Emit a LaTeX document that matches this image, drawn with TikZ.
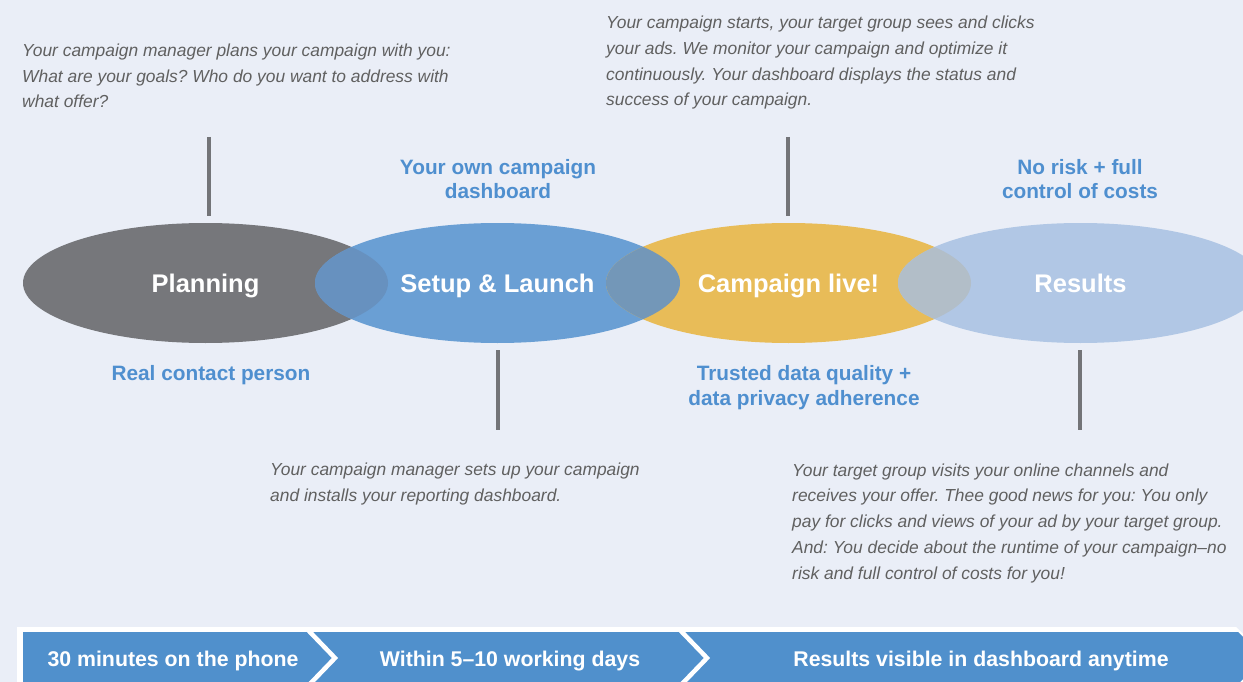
\documentclass[tikz,border=0pt]{standalone}
\usepackage{fontspec}
\setmainfont{Liberation Sans}
\usetikzlibrary{shapes.geometric}
\definecolor{bg}{HTML}{EAEEF7}
\definecolor{cplan}{HTML}{76777B}
\definecolor{csetup}{HTML}{6A9FD4}
\definecolor{clive}{HTML}{E8BC58}
\definecolor{cres}{HTML}{B1C7E5}
\definecolor{ovA}{HTML}{6791BF}
\definecolor{ovB}{HTML}{7397B8}
\definecolor{ovC}{HTML}{B2BEC8}
\definecolor{lblue}{HTML}{4F8FCF}
\definecolor{txtgray}{HTML}{606060}
\definecolor{linegray}{HTML}{737478}
\definecolor{barblue}{HTML}{5090CC}
\frenchspacing
\begin{document}
\begin{tikzpicture}[x=1pt,y=-1pt,
  phase/.style={ellipse, minimum width=365pt, minimum height=120pt, inner sep=0pt,
    text=white, font=\bfseries\fontsize{25.5}{30}\selectfont, text height=18.5pt, text depth=0pt},
  desc/.style={anchor=base west, inner sep=0pt, align=left, text=txtgray,
    font=\itshape\fontsize{17.4}{25.7}\selectfont},
  bluelbl/.style={anchor=base, inner sep=0pt, align=center, text=lblue,
    font=\bfseries\fontsize{20.8}{24.5}\selectfont},
  barlbl/.style={inner sep=0pt, text=white, font=\bfseries\fontsize{21.3}{24}\selectfont,
    text height=14.8pt, text depth=0pt},
  stem/.style={draw=linegray, line width=3.5pt},
  chev/.style={draw=white, line width=4.5pt}]
\fill[bg] (0,0) rectangle (1243,682);
\useasboundingbox (0,0) rectangle (1243,682);

% ellipses
\node[phase, fill=cplan]  (plan)  at (205.5,283) {Planning};
\node[phase, fill=csetup] (setup) at (497.5,283) {};
\node[phase, fill=clive]  (live)  at (788.5,283) {};
\node[phase, fill=cres]   (res)   at (1080.5,283) {};
% overlaps
\begin{scope}
  \clip (plan.center) ellipse [x radius=182.5, y radius=60];
  \fill[ovA] (setup.center) ellipse [x radius=182.5, y radius=60];
\end{scope}
\begin{scope}
  \clip (setup.center) ellipse [x radius=182.5, y radius=60];
  \fill[ovB] (live.center) ellipse [x radius=182.5, y radius=60];
\end{scope}
\begin{scope}
  \clip (live.center) ellipse [x radius=182.5, y radius=60];
  \fill[ovC] (res.center) ellipse [x radius=182.5, y radius=60];
\end{scope}
\node[phase] (setupT) at (setup.center) {Setup \& Launch};
\node[phase] (liveT)  at (live.center)  {Campaign live!};
\node[phase] (resT)   at (res.center)   {Results};

% stems
\coordinate (s1a) at (209,137); \coordinate (s1b) at (209,216);
\coordinate (s2a) at (498,350); \coordinate (s2b) at (498,430);
\coordinate (s3a) at (788,137); \coordinate (s3b) at (788,216);
\coordinate (s4a) at (1080,350); \coordinate (s4b) at (1080,430);
\draw[stem] (s1a) -- (s1b);
\draw[stem] (s2a) -- (s2b);
\draw[stem] (s3a) -- (s3b);
\draw[stem] (s4a) -- (s4b);

% descriptions (anchored at the baseline of the last line)
\node[desc] (d1) at (22,108) {Your campaign manager plans your campaign with you:\\What are your goals? Who do you want to address with\\what offer?};
\node[desc] (d2) at (606,106) {Your campaign starts, your target group sees and clicks\\your ads. We monitor your campaign and optimize it\\continuously. Your dashboard displays the status and\\success of your campaign.};
\node[desc] (d3) at (270,501) {Your campaign manager sets up your campaign\\and installs your reporting dashboard.};
\node[desc] (d4) at (792,579) {Your target group visits your online channels and\\receives your offer. Thee good news for you: You only\\pay for clicks and views of your ad by your target group.\\And: You decide about the runtime of your campaign--no\\risk and full control of costs for you!};

% blue labels
\node[bluelbl] (b1) at (498,199) {Your own campaign\\dashboard};
\node[bluelbl] (b2) at (1080,199) {No risk + full\\control of costs};
\node[bluelbl] (b3) at (211,380) {Real contact person};
\node[bluelbl] (b4) at (804,405) {Trusted data quality +\\data privacy adherence};

% bottom bar
\fill[white] (17,627) -- (1236,627) -- (1268,658) -- (1236,690) -- (17,690) -- cycle;
\fill[barblue] (23,632) -- (1238,632) -- (1264,658) -- (1238,684) -- (23,684) -- cycle;
\coordinate (c1a) at (308,630); \coordinate (c1t) at (335,658); \coordinate (c1b) at (308,686);
\coordinate (c2a) at (680,630); \coordinate (c2t) at (707,658); \coordinate (c2b) at (680,686);
\draw[chev] (c1a) -- (c1t) -- (c1b);
\draw[chev] (c2a) -- (c2t) -- (c2b);
\node[barlbl] (t1) at (173,659) {30 minutes on the phone};
\node[barlbl] (t2) at (510,659) {Within 5--10 working days};
\node[barlbl] (t3) at (981,659) {Results visible in dashboard anytime};
\end{tikzpicture}
\end{document}
